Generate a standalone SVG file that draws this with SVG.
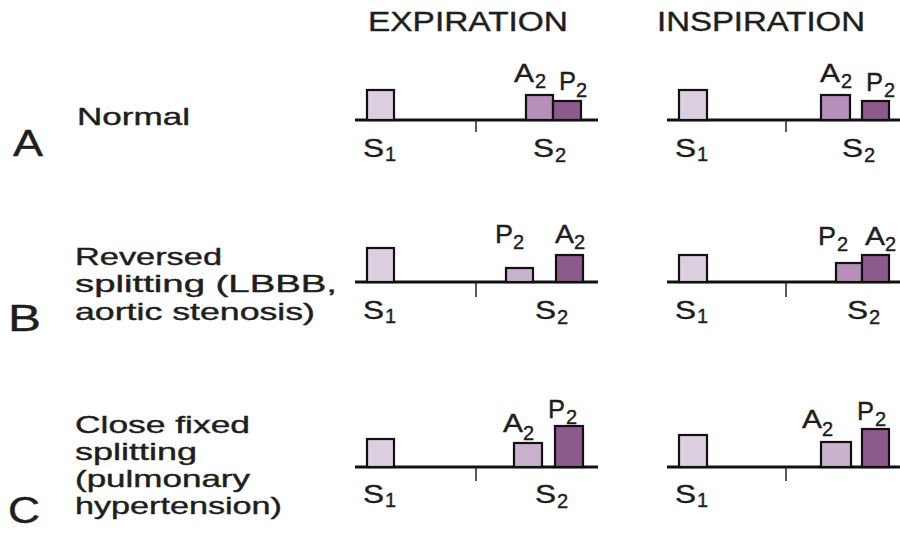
<svg xmlns="http://www.w3.org/2000/svg" width="900" height="536" viewBox="0 0 900 536">
<style>
text{font-family:"Liberation Sans",Arial,sans-serif;fill:#1e1e1e;stroke:#1e1e1e;stroke-width:0.4}
.h{font-size:27px}
.lb{font-size:24px}
.big{font-size:36px}
.m{font-size:26px}
.s{font-size:20px}
.base{stroke:#111;stroke-width:3;fill:none}
.tick{stroke:#222;stroke-width:1.5;fill:none}
.bx{stroke:#111;stroke-width:2.2}
.s1{fill:#dccfdf}
.lt{fill:#c9b3cc}
.md{fill:#b690bb}
.dk{fill:#8c5a8b}
</style>
<rect width="900" height="536" fill="#fff"/>
<g id="headers">
<text class="h" x="368" y="31" textLength="200" lengthAdjust="spacingAndGlyphs">EXPIRATION</text>
<text class="h" x="657" y="31" textLength="208" lengthAdjust="spacingAndGlyphs">INSPIRATION</text>
</g>
<g id="labels">
<text class="big" x="13" y="156" textLength="30" lengthAdjust="spacingAndGlyphs">A</text>
<text class="lb" x="77" y="125" textLength="113" lengthAdjust="spacingAndGlyphs">Normal</text>
<text class="big" x="8" y="331" textLength="33" lengthAdjust="spacingAndGlyphs">B</text>
<text class="lb" x="75" y="265" textLength="147" lengthAdjust="spacingAndGlyphs">Reversed</text>
<text class="lb" x="75" y="292" textLength="262" lengthAdjust="spacingAndGlyphs">splitting (LBBB,</text>
<text class="lb" x="75" y="320" textLength="240" lengthAdjust="spacingAndGlyphs">aortic stenosis)</text>
<text class="big" x="8" y="523" textLength="32" lengthAdjust="spacingAndGlyphs">C</text>
<text class="lb" x="75" y="433" textLength="175" lengthAdjust="spacingAndGlyphs">Close fixed</text>
<text class="lb" x="75" y="460" textLength="122" lengthAdjust="spacingAndGlyphs">splitting</text>
<text class="lb" x="75" y="487" textLength="175" lengthAdjust="spacingAndGlyphs">(pulmonary</text>
<text class="lb" x="75" y="514" textLength="207" lengthAdjust="spacingAndGlyphs">hypertension)</text>
</g>
<g id="connectors">
<line class="base" x1="355" y1="120" x2="598" y2="120"/>
<line class="tick" x1="476" y1="120" x2="476" y2="132"/>
<line class="base" x1="667" y1="120" x2="900" y2="120"/>
<line class="tick" x1="786" y1="120" x2="786" y2="132"/>
<line class="base" x1="355" y1="282" x2="598" y2="282"/>
<line class="tick" x1="476" y1="282" x2="476" y2="297"/>
<line class="base" x1="667" y1="282" x2="900" y2="282"/>
<line class="tick" x1="786" y1="282" x2="786" y2="297"/>
<line class="base" x1="355" y1="467" x2="598" y2="467"/>
<line class="tick" x1="476" y1="467" x2="476" y2="481"/>
<line class="base" x1="667" y1="467" x2="900" y2="467"/>
<line class="tick" x1="786" y1="467" x2="786" y2="481"/>
</g>
<g id="a-exp">
<rect class="bx s1" x="367" y="90" width="27" height="30"/>
<rect class="bx md" x="526" y="95" width="27" height="25"/>
<rect class="bx dk" x="553" y="101" width="28" height="19"/>
<text class="m" x="514" y="82" textLength="20" lengthAdjust="spacingAndGlyphs">A</text>
<text class="s" x="535" y="88">2</text>
<text class="m" x="559" y="90" textLength="17" lengthAdjust="spacingAndGlyphs">P</text>
<text class="s" x="576" y="97">2</text>
<text class="m" x="363" y="157" textLength="21" lengthAdjust="spacingAndGlyphs">S</text>
<text class="s" x="385" y="161">1</text>
<text class="m" x="533" y="157" textLength="21" lengthAdjust="spacingAndGlyphs">S</text>
<text class="s" x="555" y="162">2</text>
</g>
<g id="a-insp">
<rect class="bx s1" x="679" y="90" width="28" height="30"/>
<rect class="bx md" x="821" y="95" width="29" height="25"/>
<rect class="bx dk" x="862" y="101" width="27" height="19"/>
<text class="m" x="820" y="82" textLength="20" lengthAdjust="spacingAndGlyphs">A</text>
<text class="s" x="841" y="88">2</text>
<text class="m" x="866" y="91" textLength="17" lengthAdjust="spacingAndGlyphs">P</text>
<text class="s" x="884" y="97">2</text>
<text class="m" x="675" y="157" textLength="21" lengthAdjust="spacingAndGlyphs">S</text>
<text class="s" x="697" y="161">1</text>
<text class="m" x="842" y="157" textLength="21" lengthAdjust="spacingAndGlyphs">S</text>
<text class="s" x="864" y="162">2</text>
</g>
<g id="b-exp">
<rect class="bx s1" x="367" y="248" width="27" height="34"/>
<rect class="bx lt" x="506" y="268" width="27" height="14"/>
<rect class="bx dk" x="556" y="255" width="27" height="27"/>
<text class="m" x="495" y="243" textLength="18" lengthAdjust="spacingAndGlyphs">P</text>
<text class="s" x="513" y="249">2</text>
<text class="m" x="555" y="243" textLength="19" lengthAdjust="spacingAndGlyphs">A</text>
<text class="s" x="574" y="249">2</text>
<text class="m" x="363" y="319" textLength="21" lengthAdjust="spacingAndGlyphs">S</text>
<text class="s" x="385" y="323">1</text>
<text class="m" x="535" y="319" textLength="21" lengthAdjust="spacingAndGlyphs">S</text>
<text class="s" x="557" y="324">2</text>
</g>
<g id="b-insp">
<rect class="bx s1" x="679" y="255" width="28" height="27"/>
<rect class="bx md" x="836" y="263" width="26" height="19"/>
<rect class="bx dk" x="862" y="255" width="27" height="27"/>
<text class="m" x="818" y="245" textLength="18" lengthAdjust="spacingAndGlyphs">P</text>
<text class="s" x="837" y="251">2</text>
<text class="m" x="865" y="245" textLength="20" lengthAdjust="spacingAndGlyphs">A</text>
<text class="s" x="885" y="251">2</text>
<text class="m" x="675" y="319" textLength="21" lengthAdjust="spacingAndGlyphs">S</text>
<text class="s" x="697" y="323">1</text>
<text class="m" x="847" y="319" textLength="21" lengthAdjust="spacingAndGlyphs">S</text>
<text class="s" x="869" y="324">2</text>
</g>
<g id="c-exp">
<rect class="bx s1" x="367" y="439" width="27" height="28"/>
<rect class="bx lt" x="514" y="443" width="28" height="24"/>
<rect class="bx dk" x="555" y="426" width="28" height="41"/>
<text class="m" x="503" y="432" textLength="20" lengthAdjust="spacingAndGlyphs">A</text>
<text class="s" x="523" y="440">2</text>
<text class="m" x="548" y="418" textLength="17" lengthAdjust="spacingAndGlyphs">P</text>
<text class="s" x="566" y="424">2</text>
<text class="m" x="363" y="503" textLength="21" lengthAdjust="spacingAndGlyphs">S</text>
<text class="s" x="385" y="507">1</text>
<text class="m" x="535" y="503" textLength="21" lengthAdjust="spacingAndGlyphs">S</text>
<text class="s" x="557" y="508">2</text>
</g>
<g id="c-insp">
<rect class="bx s1" x="679" y="435" width="28" height="32"/>
<rect class="bx lt" x="821" y="442" width="30" height="25"/>
<rect class="bx dk" x="862" y="429" width="27" height="38"/>
<text class="m" x="802" y="428" textLength="20" lengthAdjust="spacingAndGlyphs">A</text>
<text class="s" x="822" y="436">2</text>
<text class="m" x="857" y="420" textLength="17" lengthAdjust="spacingAndGlyphs">P</text>
<text class="s" x="875" y="426">2</text>
<text class="m" x="675" y="503" textLength="21" lengthAdjust="spacingAndGlyphs">S</text>
<text class="s" x="697" y="507">1</text>
</g>
</svg>
